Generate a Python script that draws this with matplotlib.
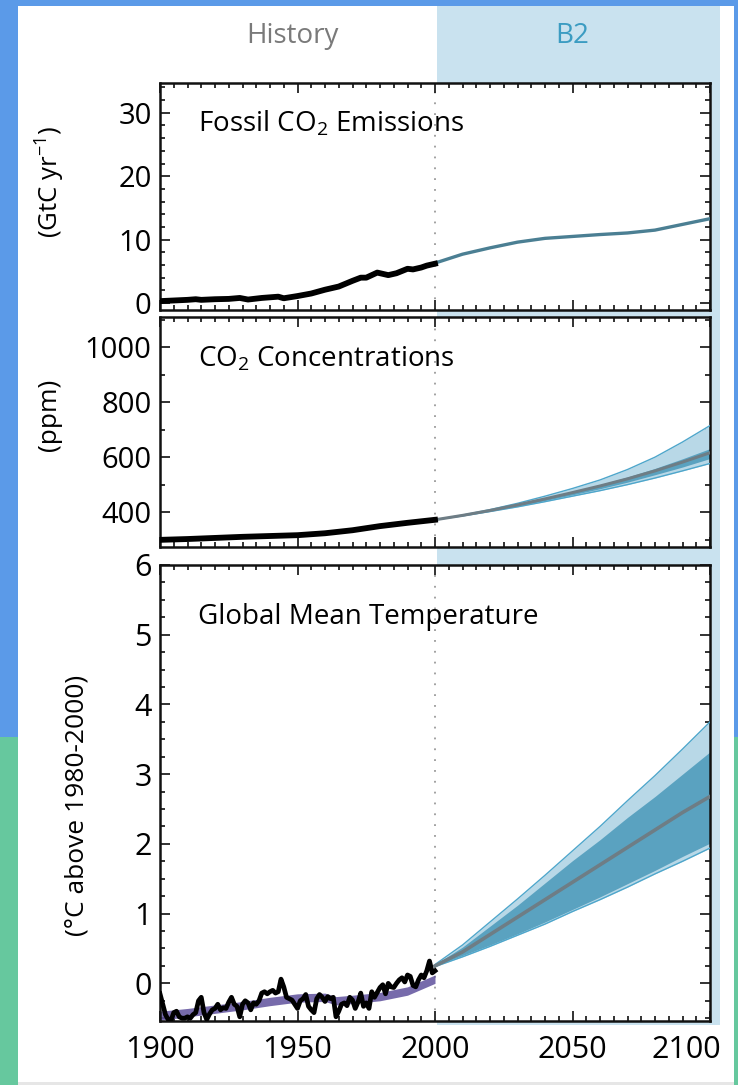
import numpy as np
import matplotlib
matplotlib.use("Agg")
import matplotlib.pyplot as plt
from matplotlib.patches import Rectangle
from matplotlib.ticker import MultipleLocator
from matplotlib.transforms import ScaledTranslation

plt.rcParams['font.family'] = ['Open Sans', 'DejaVu Sans']
plt.rcParams['mathtext.fontset'] = 'custom'
plt.rcParams['mathtext.rm'] = 'Open Sans'
plt.rcParams['mathtext.it'] = 'Open Sans'

# ---- data ----
# fossil CO2 emissions, history (GtC/yr)
em_hist_years = [1900, 1905, 1910, 1913, 1915, 1920, 1925, 1929, 1932, 1937, 1940, 1943,
                 1945, 1950, 1955, 1960, 1965, 1970, 1973, 1975, 1979, 1983, 1986, 1990,
                 1992, 1995, 1997, 2000]
em_hist = [0.3, 0.4, 0.5, 0.6, 0.5, 0.6, 0.65, 0.8, 0.55, 0.8, 0.9, 1.0,
           0.75, 1.1, 1.5, 2.1, 2.6, 3.5, 4.0, 4.0, 4.8, 4.4, 4.7, 5.4,
           5.3, 5.6, 5.9, 6.2]

# scenario years
b2_years = [2000, 2010, 2020, 2030, 2040, 2050, 2060, 2070, 2080, 2090, 2100]
em_b2 = [6.3, 7.7, 8.7, 9.6, 10.2, 10.5, 10.8, 11.05, 11.5, 12.4, 13.3]

# CO2 concentrations (ppm)
co2_hist_years = [1900, 1910, 1920, 1930, 1940, 1950, 1960, 1970, 1980, 1990, 2000]
co2_hist = [299, 302, 306, 310, 313, 316, 323, 334, 349, 361, 372]
co2_mid = [372, 388, 406, 426, 448, 471, 495, 521, 550, 582, 616]
co2_out_hi = [372, 389, 409, 432, 458, 486, 517, 555, 600, 655, 715]
co2_in_hi = [372, 388, 407, 428, 451, 475, 500, 528, 559, 594, 631]
co2_in_lo = [372, 387, 404, 422, 442, 463, 485, 509, 536, 564, 595]
co2_out_lo = [372, 386, 402, 419, 438, 458, 478, 500, 524, 550, 577]

# global mean temperature (deg C above 1980-2000)
t_hist_years = list(range(1900, 2001))
t_hist = [-0.15, -0.30, -0.45, -0.52, -0.53, -0.42, -0.40, -0.48, -0.50, -0.50,
          -0.48, -0.50, -0.45, -0.42, -0.25, -0.20, -0.42, -0.52, -0.44, -0.38,
          -0.36, -0.30, -0.38, -0.35, -0.36, -0.27, -0.20, -0.30, -0.33, -0.48,
          -0.30, -0.25, -0.28, -0.38, -0.28, -0.30, -0.25, -0.14, -0.12, -0.15,
          -0.12, -0.10, -0.14, -0.12, 0.06, -0.05, -0.20, -0.22, -0.24, -0.30,
          -0.36, -0.25, -0.22, -0.16, -0.33, -0.38, -0.42, -0.22, -0.16, -0.20,
          -0.26, -0.19, -0.22, -0.20, -0.48, -0.40, -0.30, -0.28, -0.32, -0.20,
          -0.24, -0.36, -0.27, -0.14, -0.33, -0.28, -0.36, -0.12, -0.20, -0.13,
          -0.06, -0.02, -0.15, 0.00, -0.05, -0.06, 0.00, 0.05, 0.08, 0.02,
          0.12, 0.10, -0.03, -0.05, 0.05, 0.12, 0.08, 0.18, 0.32, 0.15,
          0.18]
# simulated history band (purple)
sim_years = [1900, 1910, 1920, 1930, 1940, 1950, 1960, 1964, 1970, 1980, 1990, 2000]
sim_lo = [-0.53, -0.48, -0.43, -0.38, -0.32, -0.27, -0.26, -0.31, -0.29, -0.25, -0.17, 0.00]
sim_hi = [-0.40, -0.36, -0.31, -0.26, -0.20, -0.15, -0.14, -0.19, -0.17, -0.13, -0.05, 0.12]

t_mid = [0.25, 0.45, 0.70, 0.95, 1.20, 1.45, 1.70, 1.95, 2.20, 2.45, 2.68]
t_out_hi = [0.27, 0.55, 0.88, 1.21, 1.55, 1.90, 2.25, 2.62, 2.98, 3.36, 3.75]
t_in_hi = [0.27, 0.52, 0.82, 1.12, 1.44, 1.76, 2.06, 2.38, 2.68, 3.00, 3.32]
t_in_lo = [0.25, 0.40, 0.55, 0.71, 0.88, 1.06, 1.24, 1.43, 1.62, 1.82, 2.01]
t_out_lo = [0.24, 0.38, 0.53, 0.69, 0.85, 1.03, 1.20, 1.38, 1.57, 1.75, 1.94]

# ---- colours ----
frame_blue = '#5b9ae8'
frame_green = '#66c89e'
b2_bg = '#c9e2ef'
light_band = '#b8d8e7'
band_edge = '#4ea6cb'
dark_band = '#5aa2c0'
mid_grey = '#6e7d85'
em_line = '#4b7f93'
purple = '#5f519c'

W, H = 738, 1085
fig = plt.figure(figsize=(W / 100, H / 100), dpi=100)
fig.patch.set_facecolor('white')


def px_rect(x0, y0, x1, y1, color):
    fig.patches.append(Rectangle((x0 / W, 1 - y1 / H), (x1 - x0) / W, (y1 - y0) / H,
                                 transform=fig.transFigure, color=color, zorder=-5, lw=0))


# screenshot frame and B2 background
px_rect(0, 0, W, 6, frame_blue)
px_rect(0, 0, 18, 737, frame_blue)
px_rect(0, 737, 18, H, frame_green)
px_rect(734, 0, W, 737, frame_blue)
px_rect(734, 737, W, H, frame_green)
px_rect(18, 1082, 734, H, '#e6e6e6')
px_rect(437, 6, 720, 1025, b2_bg)

fig.text(292 / W, 1 - 36 / H, 'History', ha='center', va='center', fontsize=20, color='#7a7a7a')
fig.text(572 / W, 1 - 36 / H, 'B2', ha='center', va='center', fontsize=20, color='#3b9cc2')


def add_ax(top, bottom):
    return fig.add_axes([160 / W, 1 - bottom / H, 550 / W, (bottom - top) / H])


ax1 = add_ax(83, 310)
ax2 = add_ax(317, 547)
ax3 = add_ax(565, 1021)

for ax in (ax1, ax2, ax3):
    ax.set_facecolor('white')
    ax.set_xlim(1900, 2100)
    ax.xaxis.set_major_locator(MultipleLocator(50))
    ax.xaxis.set_minor_locator(MultipleLocator(5))
    ax.tick_params(which='both', direction='in', top=True, right=True, width=1.3, color='#222222')
    ax.tick_params(which='major', length=7, labelsize=21, pad=6)
    ax.tick_params(which='minor', length=3.5)
    for s in ax.spines.values():
        s.set_linewidth(1.8)
        s.set_color('#111111')
    ax.axvline(2000, color='#9a9a9a', ls=(0, (1, 5)), lw=1.3, zorder=1)

# --- emissions ---
ax1.set_ylim(-1.1, 34.7)
ax1.yaxis.set_major_locator(MultipleLocator(10))
ax1.yaxis.set_minor_locator(MultipleLocator(2))
ax1.plot(b2_years, em_b2, color=em_line, lw=2.4, zorder=3)
ax1.plot(em_hist_years, em_hist, color='black', lw=4.2, zorder=4)
ax1.tick_params(labelbottom=False)
ax1.text(0.069, 0.82, 'Fossil CO$_2$ Emissions', transform=ax1.transAxes, fontsize=20, va='center')

# --- CO2 ---
ax2.set_ylim(273, 1110)
ax2.set_yticks([400, 600, 800, 1000])
ax2.yaxis.set_minor_locator(MultipleLocator(100))
ax2.fill_between(b2_years, co2_out_lo, co2_out_hi, color=light_band, lw=0, zorder=2)
ax2.fill_between(b2_years, co2_in_lo, co2_in_hi, color=dark_band, lw=0, zorder=2)
for s in (co2_out_lo, co2_out_hi):
    ax2.plot(b2_years, s, color=band_edge, lw=1.0, zorder=3)
ax2.plot(b2_years, co2_mid, color=mid_grey, lw=2.2, zorder=3)
ax2.plot(co2_hist_years, co2_hist, color='black', lw=4.2, zorder=4)
ax2.tick_params(labelbottom=False)
ax2.text(0.069, 0.817, 'CO$_2$ Concentrations', transform=ax2.transAxes, fontsize=20, va='center')

# --- temperature ---
ax3.set_ylim(-0.54, 6)
ax3.set_yticks([0, 1, 2, 3, 4, 5, 6])
ax3.yaxis.set_minor_locator(MultipleLocator(0.25))
ax3.fill_between(sim_years, sim_lo, sim_hi, color=purple, lw=0, alpha=0.85, zorder=2)
ax3.fill_between(b2_years, t_out_lo, t_out_hi, color=light_band, lw=0, zorder=2)
ax3.fill_between(b2_years, t_in_lo, t_in_hi, color=dark_band, lw=0, zorder=2)
for s in (t_out_lo, t_out_hi):
    ax3.plot(b2_years, s, color=band_edge, lw=1.0, zorder=3)
ax3.plot(b2_years, t_mid, color=mid_grey, lw=2.6, zorder=3)
ax3.plot(t_hist_years, t_hist, color='black', lw=3.4, zorder=4)
ax3.tick_params(which='major', labelsize=22)
ax3.tick_params(axis='x', which='major', pad=10)
ax3.text(0.069, 0.886, 'Global Mean Temperature', transform=ax3.transAxes, fontsize=20, va='center')
ax3.set_xticks([1900, 1950, 2000, 2050, 2100])
labels = ax3.get_xticklabels()
labels[-1].set_horizontalalignment('right')
labels[-1].set_transform(labels[-1].get_transform() + ScaledTranslation(0.11, 0, fig.dpi_scale_trans))

# y axis titles
fig.text(50 / W, 1 - 182 / H, '(GtC yr$^{-1}$)', rotation=90, ha='center', va='center', fontsize=18.5)
fig.text(50 / W, 1 - 415 / H, '(ppm)', rotation=90, ha='center', va='center', fontsize=19)
fig.text(77 / W, 1 - 805 / H, '(\u00b0C above 1980-2000)', rotation=90, ha='center', va='center', fontsize=19)

fig.savefig('out.png', dpi=100, facecolor=fig.get_facecolor())
